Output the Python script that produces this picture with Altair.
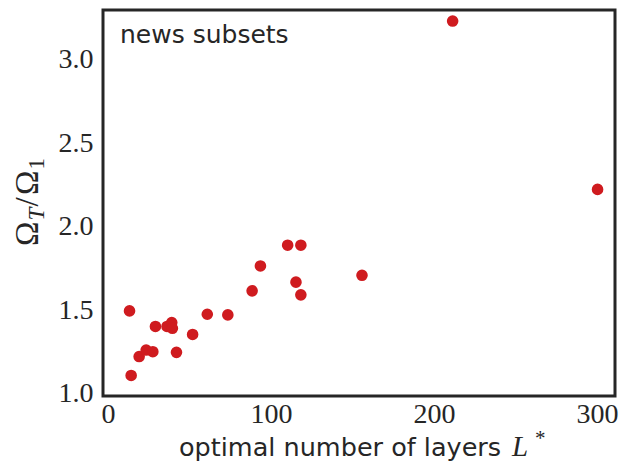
import altair as alt
import pandas as pd

# data
layers = [13.2, 14.2, 19.1, 23.4, 27.5, 29.1, 36.2, 39.1, 39.5, 42.0, 51.9,
          60.9, 73.5, 88.4, 93.5, 110.2, 118.3, 115.3, 118.3, 155.8, 211.4, 300.3]
ratio = [1.497, 1.111, 1.224, 1.263, 1.253, 1.404, 1.404, 1.427, 1.393, 1.249, 1.356,
         1.477, 1.473, 1.617, 1.766, 1.890, 1.890, 1.669, 1.593, 1.710, 3.231, 2.224]
x_ticks = [0, 100, 200, 300]
y_ticks = [1.0, 1.5, 2.0, 2.5, 3.0]
annotation = "news subsets"
x_title_main = "optimal number of layers"

df = pd.DataFrame({"L": layers, "R": ratio})

W, H = 512, 386
INK = "#262626"
SERIF = "Liberation Serif"
SANS = "DejaVu Sans"

points = alt.Chart(df).mark_circle(size=135, color="#cf1b1f", opacity=1).encode(
    x=alt.X("L:Q", scale=alt.Scale(domain=[-3.07, 311.0], nice=False, zero=False),
            axis=alt.Axis(values=x_ticks, title=None, domain=False, ticks=False, grid=False,
                          labelFont=SERIF, labelFontSize=28, labelColor=INK,
                          labelPadding=4, labelFlush=False)),
    y=alt.Y("R:Q", scale=alt.Scale(domain=[0.988, 3.297], nice=False, zero=False),
            axis=alt.Axis(values=y_ticks, format=".1f", title=None, domain=False, ticks=False,
                          grid=False, labelFont=SERIF, labelFontSize=28, labelColor=INK,
                          labelPadding=10, labelFlush=False)),
)


def txt(s, x, y, font=SANS, size=25, style="normal", angle=0, align="left"):
    return alt.Chart(pd.DataFrame({"t": [s]})).mark_text(
        font=font, fontSize=size, fontStyle=style, color=INK, angle=angle,
        align=align, baseline="alphabetic"
    ).encode(text="t:N", x=alt.value(x), y=alt.value(y))


label = txt(annotation, 17, 33, size=25)

# x title: sans text + italic L with superscript star
xt_y = 446
x_title = [
    txt(x_title_main, 76, xt_y, size=25.5),
    txt("L", 409, xt_y, font=SERIF, size=29, style="italic"),
    txt("*", 432, xt_y - 11, font=SERIF, size=21),
]

# y title: Omega_T / Omega_1 rotated
bx, sx = -65, -59
y_title = [
    txt("Ω", bx, 236, font=SERIF, size=33, angle=270),
    txt("T", sx, 210.5, font=SERIF, size=23, style="italic", angle=270),
    txt("/", bx, 196.5, font=SERIF, size=33, angle=270),
    txt("Ω", bx, 185, font=SERIF, size=33, angle=270),
    txt("1", sx, 159.5, font=SERIF, size=23, angle=270),
]

chart = alt.layer(points, label, *x_title, *y_title).properties(
    width=W, height=H,
    background="white",
    autosize=alt.AutoSizeParams(type="none"),
    padding={"left": 95, "top": 2, "right": 5, "bottom": 66},
).configure_view(stroke=INK, strokeWidth=3)

chart.save("out.html", embed_options={"renderer": "svg", "actions": False})
